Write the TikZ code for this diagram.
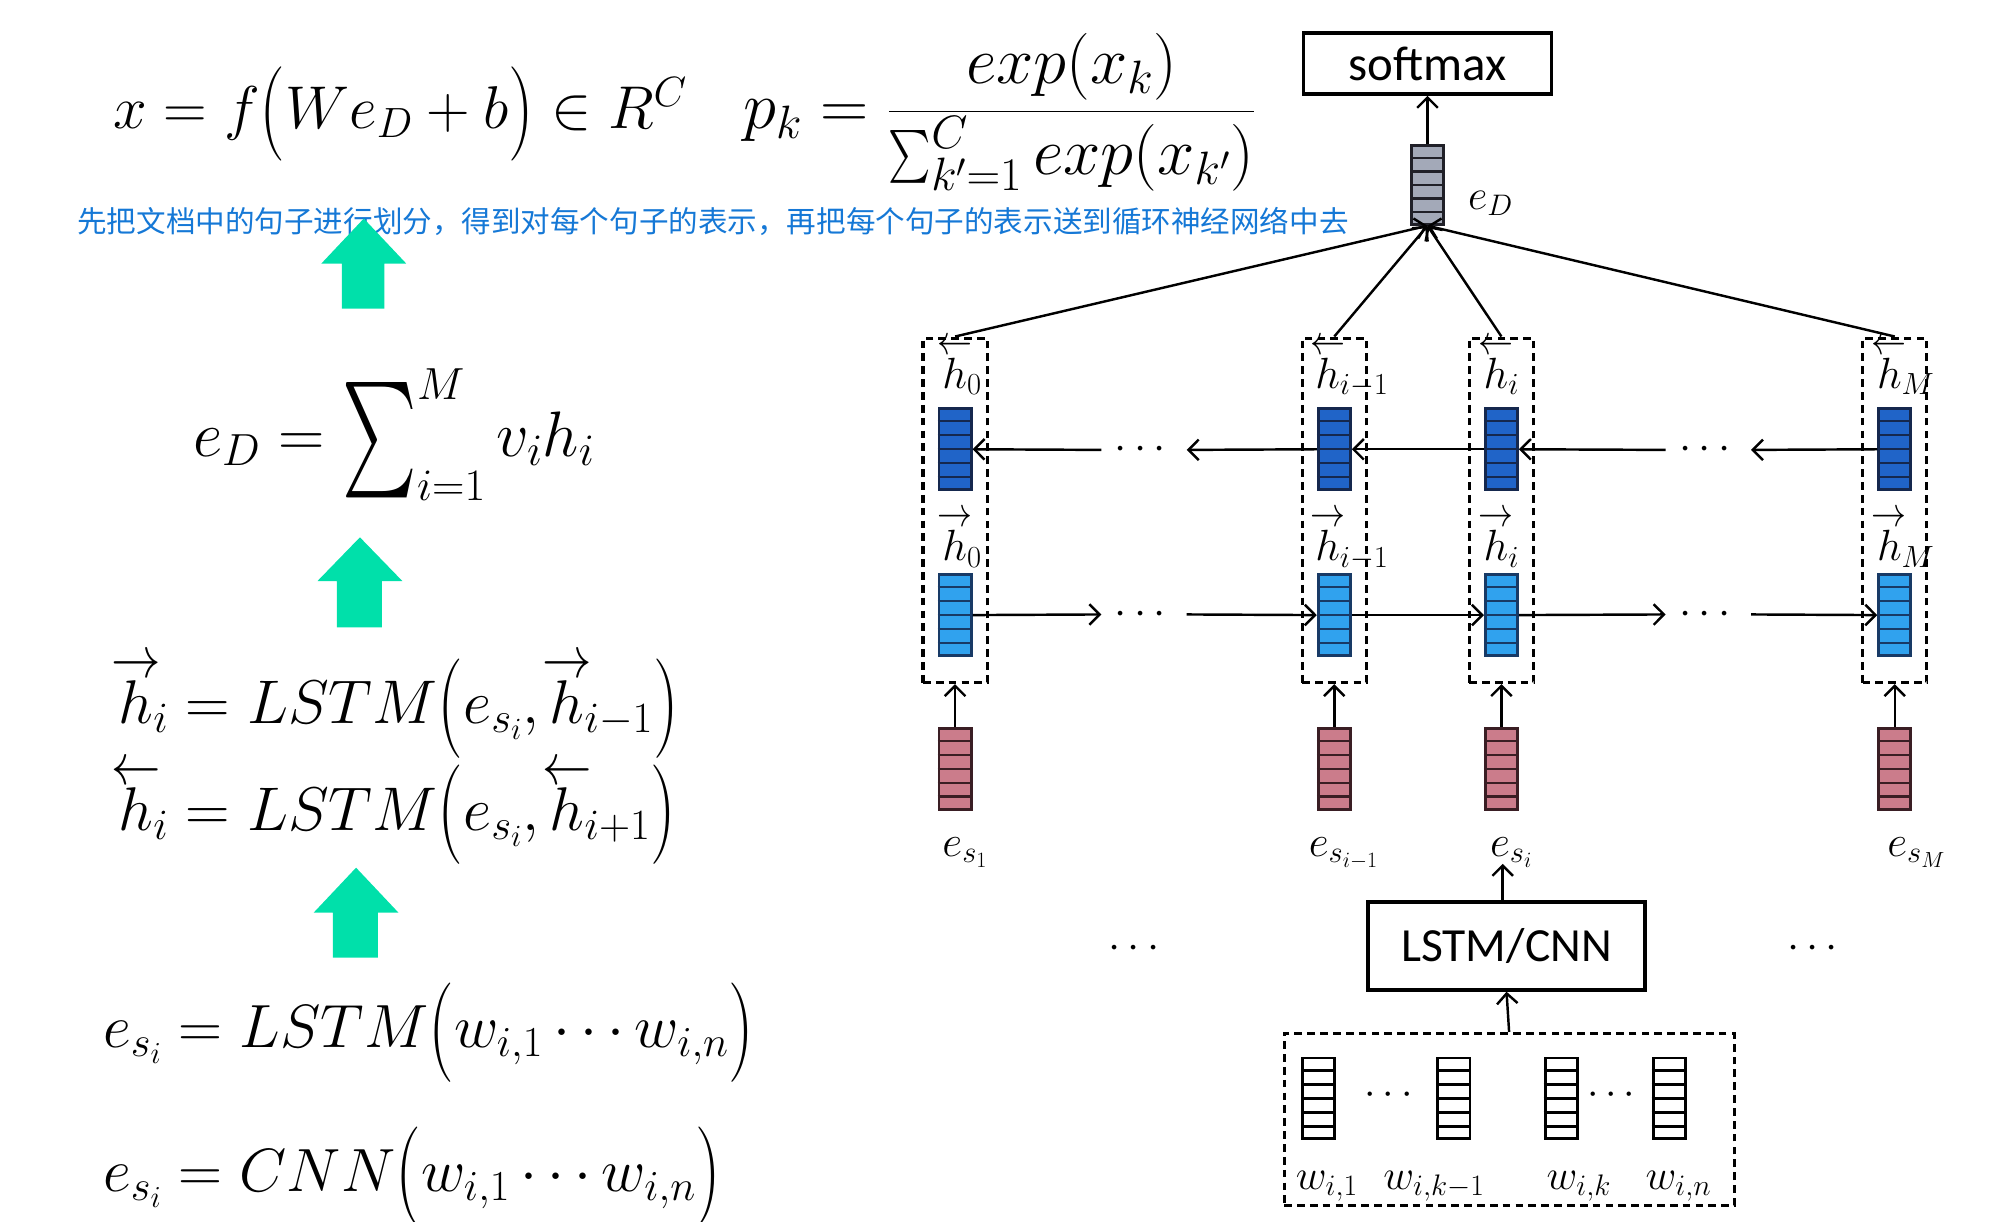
\RequirePackage{fix-cm}
\documentclass[tikz,border=0pt]{standalone}
\usepackage{amsmath}
\usepackage{graphicx}
\usepackage{fontspec}
\newfontfamily\cjk{Noto Sans CJK SC}
\newfontfamily\carl{Carlito}
\usetikzlibrary{arrows.meta,calc}
\definecolor{darkvec}{HTML}{2064C8}
\definecolor{darkedge}{HTML}{15284E}
\definecolor{lightvec}{HTML}{30A2EE}
\definecolor{lightedge}{HTML}{183A66}
\definecolor{pinkvec}{HTML}{CB7C8B}
\definecolor{pinkedge}{HTML}{3A1E24}
\definecolor{grayvec}{HTML}{A3A9B8}
\definecolor{grayedge}{HTML}{202028}
\definecolor{greenarr}{HTML}{00E0AA}
\definecolor{cntext}{HTML}{1578D6}
\newcommand\fw[1]{\overset{\makebox[0pt]{\raisebox{-0.26em}{\scalebox{0.8}[0.95]{$\rightarrow$}}}}{#1}}
\newcommand\bw[1]{\overset{\makebox[0pt]{\raisebox{-0.26em}{\scalebox{0.8}[0.95]{$\leftarrow$}}}}{#1}}
\newcommand\lp[1]{\mathopen{\vcenter{\hbox{\resizebox{20pt}{#1}{$($}}}}}
\newcommand\rp[1]{\mathclose{\vcenter{\hbox{\resizebox{20pt}{#1}{$)$}}}}}
\newcommand\bigsum[2]{\mathop{\vcenter{\hbox{\resizebox{#1}{#2}{$\textstyle\sum$}}}}}
\newcommand\cellsix[2]{\foreach \k in {1,...,5}{\draw[line width=1.8pt,#2] ($(#1.north west)!\k/6!(#1.south west)$) -- ($(#1.north east)!\k/6!(#1.south east)$);}}
\tikzset{
  vecbox/.style={line width=2.2pt, minimum width=25pt, minimum height=63pt, inner sep=0pt},
  darkv/.style={vecbox, draw=darkedge, fill=darkvec},
  lightv/.style={vecbox, draw=lightedge, fill=lightvec},
  pinkv/.style={vecbox, draw=pinkedge, fill=pinkvec},
  grayv/.style={vecbox, draw=grayedge, fill=grayvec, minimum height=61pt},
  wordv/.style={vecbox, draw=black, fill=white},
  colbox/.style={draw, dash pattern=on 6pt off 4pt, line width=2.4pt, minimum width=50pt, minimum height=268pt, inner sep=0pt},
  wordbox/.style={draw, dash pattern=on 6pt off 4pt, line width=2.4pt, minimum width=350pt, minimum height=134pt, inner sep=0pt},
  blockbox/.style={draw, line width=3pt, inner sep=0pt},
  conn/.style={line width=1.9pt, -{Straight Barb[length=8pt,width=16pt,line width=1.9pt]}},
  dotsn/.style={inner sep=0pt, minimum width=66pt, minimum height=10pt, font=\fontsize{34}{34}\selectfont},
  bigmath/.style={anchor=base west, inner sep=0pt, font=\fontsize{46}{55}\selectfont},
  hlab/.style={anchor=base west, inner sep=0pt, font=\fontsize{34}{38}\selectfont},
  wlab/.style={anchor=base west, inner sep=0pt, font=\fontsize{33}{36}\selectfont},
  greenup/.style={fill=greenarr}
}
\begin{document}
\begin{tikzpicture}[x=1pt,y=-1pt]
\useasboundingbox (0,0) rectangle (1566,950);
% ---------------- left formulas ----------------
\node[bigmath, font=\fontsize{47}{55}\selectfont] (f1) at (88,100) {$x = f\lp{55pt}We_D+b\rp{55pt} \in R^C$};
\node[bigmath, font=\fontsize{52}{60}\selectfont] (f2) at (578,100) {$p_k = \dfrac{exp(x_k)}{\bigsum{33pt}{42pt}\nolimits_{k'=1}^{C} exp(x_{k'})}$};
\node[anchor=west, inner sep=0pt, text=cntext, font=\cjk\fontsize{23}{24}\selectfont] (cn) at (60,172) {先把文档中的句子进行划分，得到对每个句子的表示，再把每个句子的表示送到循环神经网络中去};
\node[bigmath, font=\fontsize{50}{58}\selectfont] (f3) at (150,355) {$e_D = \bigsum{58pt}{90pt}\nolimits_{i=1}^{M} v_i h_i$};
\node[bigmath, font=\fontsize{48}{56}\selectfont] (f4) at (92,563) {$\fw{h}_i = LSTM\lp{58pt}e_{s_i}, \fw{h}_{i-1}\rp{58pt}$};
\node[bigmath, font=\fontsize{48}{56}\selectfont] (f5) at (92,646) {$\bw{h}_i = LSTM\lp{58pt}e_{s_i}, \bw{h}_{i+1}\rp{58pt}$};
\node[bigmath, font=\fontsize{47.5}{56}\selectfont] (f6) at (80,815) {$e_{s_i} = LSTM\lp{58pt}w_{i,1} \cdots w_{i,n}\rp{58pt}$};
\node[bigmath, font=\fontsize{47.5}{56}\selectfont] (f7) at (80,927) {$e_{s_i} = CNN\lp{58pt}w_{i,1} \cdots w_{i,n}\rp{58pt}$};
% green arrows
\fill[greenup] (283,170) -- (316,205) -- (299,205) -- (299,240) -- (266,240) -- (266,205) -- (250,205) -- cycle;
\fill[greenup] (280,418) -- (313,452) -- (297,452) -- (297,488) -- (262,488) -- (262,452) -- (247,452) -- cycle;
\fill[greenup] (277,675) -- (310,710) -- (294,710) -- (294,745) -- (259,745) -- (259,710) -- (244,710) -- cycle;
% ---------------- right diagram ----------------
\node[blockbox, minimum width=193pt, minimum height=47pt, font=\carl\fontsize{38}{40}\selectfont] (soft) at (1110.5,49.5) {softmax};
\node[grayv] (eD) at (1110.5,144) {};
\cellsix{eD}{grayedge}
\node[anchor=base west, inner sep=0pt, font=\fontsize{33}{36}\selectfont] (eDl) at (1142,163) {$e_D$};
\draw[conn] (eD.north) -- (soft.south);
% columns
\foreach \n/\cx in {1/743,2/1038,3/1168,4/1474}{
  \node[colbox] (box\n) at (\cx,397) {};
  \node[darkv] (vd\n) at (\cx,349.5) {};
  \node[lightv] (vl\n) at (\cx,478.5) {};
  \node[pinkv] (vp\n) at (\cx,598) {};
  \draw[conn] (vp\n.north) -- (box\n.south);
  \draw[conn] (box\n.north) -- (eD.south);
}
\cellsix{vd1}{darkedge}\cellsix{vd2}{darkedge}\cellsix{vd3}{darkedge}\cellsix{vd4}{darkedge}
\cellsix{vl1}{lightedge}\cellsix{vl2}{lightedge}\cellsix{vl3}{lightedge}\cellsix{vl4}{lightedge}
\cellsix{vp1}{pinkedge}\cellsix{vp2}{pinkedge}\cellsix{vp3}{pinkedge}\cellsix{vp4}{pinkedge}
% h labels
\node[hlab] (hb1) at (733,302) {$\bw{h}_0$};
\node[hlab] (hb2) at (1023,302) {$\bw{h}_{i-1}$};
\node[hlab] (hb3) at (1154,302) {$\bw{h}_i$};
\node[hlab] (hb4) at (1460,302) {$\bw{h}_M$};
\node[hlab] (hf1) at (733,436) {$\fw{h}_0$};
\node[hlab] (hf2) at (1023,436) {$\fw{h}_{i-1}$};
\node[hlab] (hf3) at (1154,436) {$\fw{h}_i$};
\node[hlab] (hf4) at (1460,436) {$\fw{h}_M$};
% e_s labels
\node[hlab] (es1) at (733,666) {$e_{s_1}$};
\node[hlab] (es2) at (1018,666) {$e_{s_{i-1}}$};
\node[hlab] (es3) at (1159,666) {$e_{s_i}$};
\node[hlab] (es4) at (1468,666) {$e_{s_M}$};
% dots in rows
\node[dotsn] (db1) at (890,350) {$\cdots$};
\node[dotsn] (db2) at (1329,350) {$\cdots$};
\node[dotsn] (df1) at (890,478) {$\cdots$};
\node[dotsn] (df2) at (1329,478) {$\cdots$};
% backward row
\draw[conn] (vd4.west) -- (db2.east);
\draw[conn] (db2.west) -- (vd3.east);
\draw[conn] (vd3.west) -- (vd2.east);
\draw[conn] (vd2.west) -- (db1.east);
\draw[conn] (db1.west) -- (vd1.east);
% forward row
\draw[conn] (vl1.east) -- (df1.west);
\draw[conn] (df1.east) -- (vl2.west);
\draw[conn] (vl2.east) -- (vl3.west);
\draw[conn] (vl3.east) -- (df2.west);
\draw[conn] (df2.east) -- (vl4.west);
% bottom part
\node[blockbox, minimum width=216pt, minimum height=68pt, font=\carl\fontsize{37}{40}\selectfont] (enc) at (1172,736) {LSTM/CNN};
\node[dotsn] (sd1) at (885,738) {$\cdots$};
\node[dotsn] (sd2) at (1413,738) {$\cdots$};
\coordinate (encOut) at (1169,702);
\coordinate (esTarget) at (1169,672);
\draw[conn] (encOut) -- (esTarget);
\node[wordbox] (wb) at (1174,871) {};
\draw[conn] (wb.north) -- (enc.south);
\node[wordv] (w1) at (1025.5,854.5) {};
\node[wordv] (w2) at (1131,854.5) {};
\node[wordv] (w3) at (1214.5,854.5) {};
\node[wordv] (w4) at (1298.5,854.5) {};
\cellsix{w1}{black}\cellsix{w2}{black}\cellsix{w3}{black}\cellsix{w4}{black}
\node[inner sep=0pt, font=\fontsize{32}{32}\selectfont] (wd1) at (1083,852) {$\cdots$};
\node[inner sep=0pt, font=\fontsize{32}{32}\selectfont] (wd2) at (1256,852) {$\cdots$};
\node[wlab] (wl1) at (1008,925) {$w_{i,1}$};
\node[wlab] (wl2) at (1076,925) {$w_{i,k-1}$};
\node[wlab] (wl3) at (1203,925) {$w_{i,k}$};
\node[wlab] (wl4) at (1280,925) {$w_{i,n}$};
\end{tikzpicture}
\end{document}
